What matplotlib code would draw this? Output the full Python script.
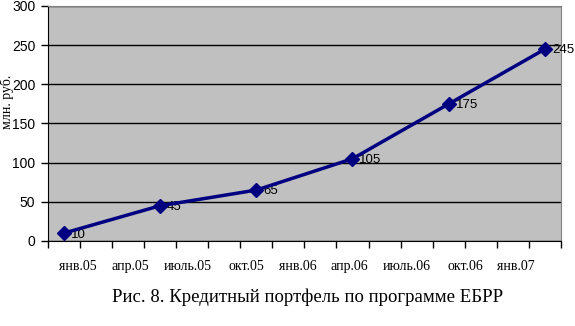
import matplotlib
matplotlib.use("Agg")
import matplotlib.pyplot as plt
import numpy as np

# 16 category slots on the x axis, points sit every third slot
n_slots = 16
point_slots = [0, 3, 6, 9, 12, 15]
values = [10, 45, 65, 105, 175, 245]
point_labels = ["10", "45", "65", "105", "175", "245"]

month_labels = ["янв.05", "апр.05", "июль.05", "окт.05", "янв.06",
                "апр.06", "июль.06", "окт.06", "янв.07"]
# where the (squeezed) labels sit, in slot units
label_slots = [0.43, 2.06, 3.85, 5.68, 7.31, 8.9, 10.68, 12.53, 14.09]

title = "Рис. 8. Кредитный портфель по программе ЕБРР"
ylabel = "млн. руб."

fig = plt.figure(figsize=(5.75, 3.26), dpi=100)
ax = fig.add_axes([47.7/575, 1-241/326, (561-47.7)/575, (241-6)/326])
ax.set_facecolor("#c0c0c0")

ax.set_xlim(-0.5, n_slots - 0.5)
ax.set_ylim(0, 300)
ax.set_yticks(np.arange(0, 301, 50))
ax.yaxis.grid(True, color="black", linewidth=1)
ax.set_axisbelow(True)

ax.plot(point_slots, values, color="#000080", linewidth=2.5, marker="D",
        markersize=7, zorder=4, clip_on=False)
for x, y, s in zip(point_slots, values, point_labels):
    ax.annotate(s, (x, y), xytext=(5, -1), textcoords="offset points",
                ha="left", va="center", fontsize=9.5,
                family="Liberation Sans", zorder=3)

ax.set_xticks(np.arange(-0.5, n_slots, 1), minor=True)
ax.set_xticks(label_slots)
ax.set_xticklabels(month_labels, family="Liberation Serif", fontsize=10)
ax.tick_params(axis="x", which="major", length=0, pad=14)
ax.tick_params(axis="x", which="minor", length=5, width=1, color="black")
ax.tick_params(axis="y", length=5, width=1, pad=4, labelsize=10)
for lab in ax.get_yticklabels():
    lab.set_family("Liberation Sans")

for side in ["top", "right"]:
    ax.spines[side].set_color("#808080")
for side in ["left", "bottom"]:
    ax.spines[side].set_color("black")

fig.text(7/575, 1-102/326, ylabel, rotation=90, ha="center", va="center",
         family="Liberation Serif", fontsize=10)
fig.text(308/575, 1-297/326, title, ha="center", va="center",
         family="Liberation Serif", fontsize=13.5)

fig.savefig("out.png", dpi=100)
